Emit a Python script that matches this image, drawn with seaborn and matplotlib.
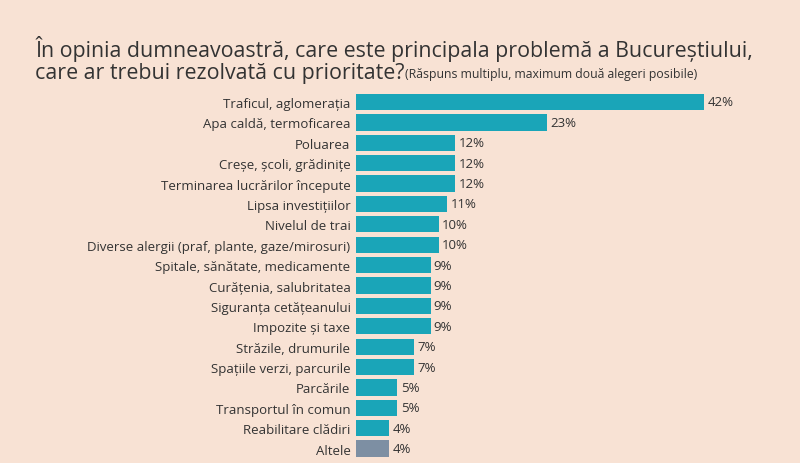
import matplotlib
matplotlib.use("Agg")
import matplotlib.pyplot as plt
import seaborn as sns
import pandas as pd

categorii = [
    "Traficul, aglomerația", "Apa caldă, termoficarea", "Poluarea",
    "Creșe, școli, grădinițe", "Terminarea lucrărilor începute",
    "Lipsa investițiilor", "Nivelul de trai",
    "Diverse alergii (praf, plante, gaze/mirosuri)",
    "Spitale, sănătate, medicamente", "Curățenia, salubritatea",
    "Siguranța cetățeanului", "Impozite și taxe", "Străzile, drumurile",
    "Spațiile verzi, parcurile", "Parcările", "Transportul în comun",
    "Reabilitare clădiri", "Altele",
]
procente = [42, 23, 12, 12, 12, 11, 10, 10, 9, 9, 9, 9, 7, 7, 5, 5, 4, 4]

bg = "#f8e2d4"
culori = ["#1aa5b8"] * (len(categorii) - 1) + ["#7d8fa3"]

sns.set_style("white")
plt.rcParams["font.family"] = ["Open Sans", "DejaVu Sans"]

df = pd.DataFrame({"cat": categorii, "val": procente})
fig = plt.figure(figsize=(8, 4.64), dpi=100, facecolor=bg)
ax = fig.add_axes([0.445, 0.009, 0.466, 0.791], facecolor=bg)
sns.barplot(data=df, x="val", y="cat", hue="cat", palette=culori,
            legend=False, width=0.8, ax=ax, saturation=1, edgecolor="none")
ax.set_xlim(0, 45)
ax.set_ylim(17.5, -0.5)
for i, v in enumerate(procente):
    ax.text(v + 0.4, i, f"{v}%", va="center", ha="left", fontsize=9.5, color="#333333")
ax.set_xlabel("")
ax.set_ylabel("")
ax.set_xticks([])
ax.tick_params(axis="y", length=0, pad=4, labelsize=9.5, labelcolor="#333333")
sns.despine(ax=ax, left=True, bottom=True)

fig.text(0.044, 0.895, "În opinia dumneavoastră, care este principala problemă a Bucureștiului,",
         fontsize=15.4, color="#333333", va="center")
fig.text(0.044, 0.842, "care ar trebui rezolvată cu prioritate?", fontsize=15.4, color="#333333", va="center")
fig.text(0.506, 0.840, "(Răspuns multiplu, maximum două alegeri posibile)", fontsize=8.8,
         color="#333333", va="center")

fig.savefig("out.png", facecolor=bg)
